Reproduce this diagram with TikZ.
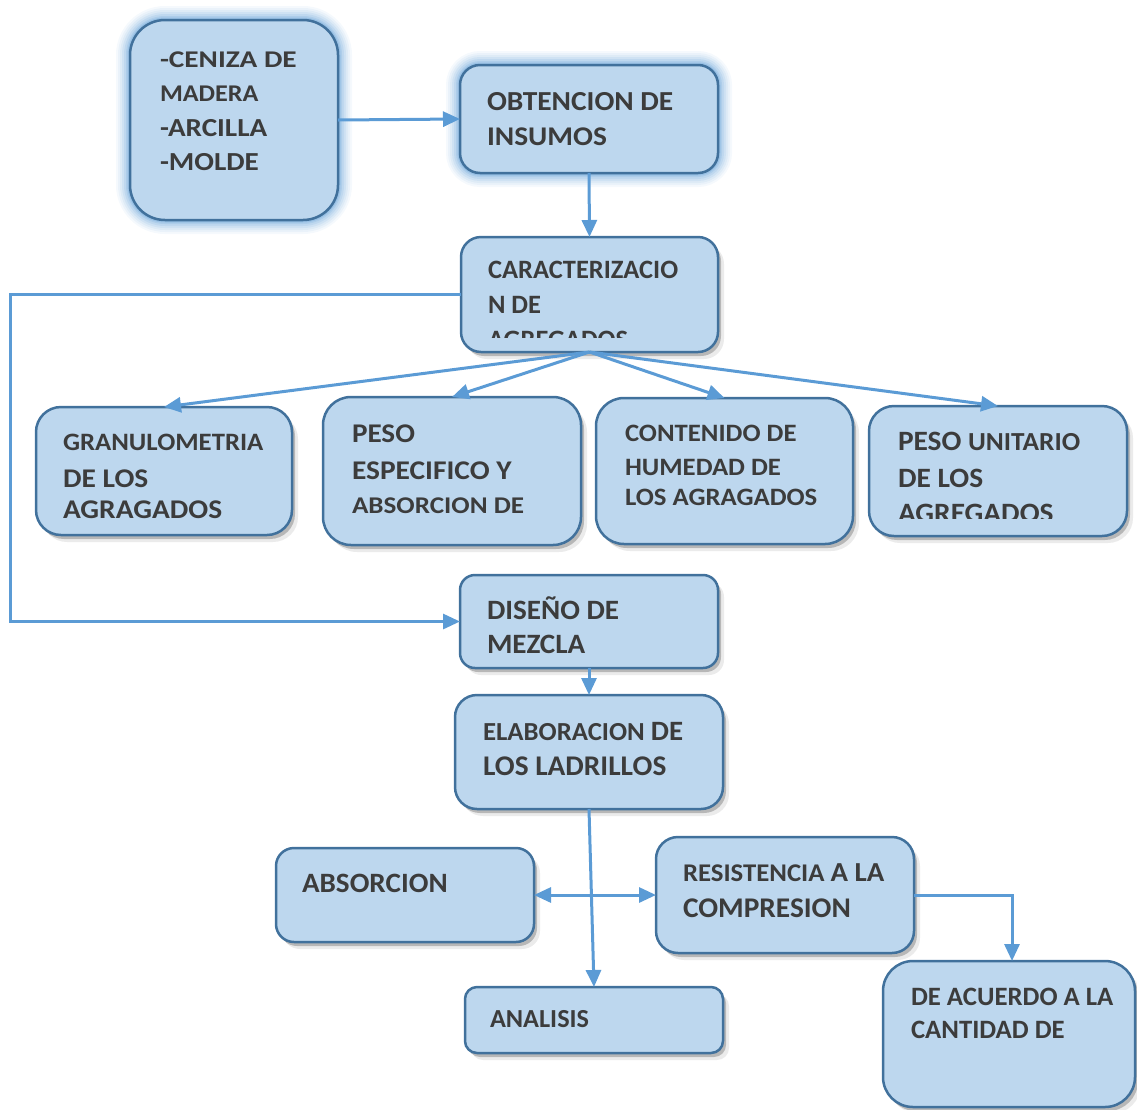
\documentclass[tikz,border=0pt]{standalone}
\usepackage{fontspec}
\usepackage{graphicx}
\setmainfont{Carlito}
\usetikzlibrary{arrows.meta,shadows,calc}
\definecolor{boxfill}{HTML}{BDD7EE}
\definecolor{boxline}{HTML}{41719C}
\definecolor{arrowc}{HTML}{5B9BD5}
\definecolor{glowc}{HTML}{5B9BD5}
\definecolor{txtc}{HTML}{3C3C3C}
\newcommand\fsz[1]{\fontsize{#1}{#1}\selectfont}
\newcommand\tx[3]{\scalebox{#1}[1]{\fsz{#2}#3}}
\begin{document}
\begin{tikzpicture}[x=1pt,y=-1pt,
  box/.style={draw=boxline, fill=boxfill, line width=2.5pt, inner sep=0pt,
    outer sep=0pt, anchor=north west, rounded corners=#1},
  box/.default=20pt,
  shad/.style={drop shadow={shadow xshift=3pt,shadow yshift=-4pt,opacity=0.22,fill=black},
    drop shadow={shadow xshift=6pt,shadow yshift=-7pt,opacity=0.08,fill=black}},
  glow/.style={preaction={draw=glowc,line width=28pt,draw opacity=0.06},
    preaction={draw=glowc,line width=24pt,draw opacity=0.07},
    preaction={draw=glowc,line width=20pt,draw opacity=0.09},
    preaction={draw=glowc,line width=16pt,draw opacity=0.11},
    preaction={draw=glowc,line width=12pt,draw opacity=0.14},
    preaction={draw=glowc,line width=8pt,draw opacity=0.18},
    preaction={draw=glowc,line width=5pt,draw opacity=0.25}},
  txt/.style={anchor=base west, inner sep=0pt, outer sep=0pt, text=txtc, font=\bfseries},
  arr/.style={draw=arrowc, line width=3pt, -{Triangle[length=17pt,width=15pt]}},
  darr/.style={draw=arrowc, line width=3pt, {Triangle[length=17pt,width=15pt]}-{Triangle[length=17pt,width=15pt]}},
  ln/.style={draw=arrowc, line width=3pt}
]
\useasboundingbox (0,0) rectangle (1137,1109);

% boxes
\node[box=35pt, glow, minimum width=208pt, minimum height=200pt] (cen) at (130,20) {};
\node[box=20pt, glow, minimum width=258pt, minimum height=108pt] (obt) at (460,65) {};
\node[box=20pt, shad, minimum width=257pt, minimum height=115pt] (car) at (461,237) {};
\node[box=25pt, shad, minimum width=256pt, minimum height=128pt] (gran) at (36,407) {};
\node[box=28pt, shad, minimum width=258pt, minimum height=148pt] (pesoe) at (323,397) {};
\node[box=28pt, shad, minimum width=257pt, minimum height=146pt] (cont) at (596,398) {};
\node[box=25pt, shad, minimum width=258pt, minimum height=130pt] (pesou) at (869,406) {};
\node[box=15pt, shad, minimum width=258pt, minimum height=93pt] (dis) at (460,575) {};
\node[box=22pt, shad, minimum width=268pt, minimum height=114pt] (elab) at (455,695) {};
\node[box=18pt, shad, minimum width=258pt, minimum height=94pt] (absor) at (276,848) {};
\node[box=22pt, shad, minimum width=258pt, minimum height=116pt] (resis) at (656,837) {};
\node[box=12pt, shad, minimum width=258pt, minimum height=66pt] (anal) at (465,987) {};
\node[box=30pt, shad, minimum width=252pt, minimum height=146pt] (acu) at (883,961) {};

% texts
\node[txt] (t1) at (160,67) {\tx{1.22}{24}{-CENIZA DE}};
\node[txt] (t2) at (160,101) {\tx{1.09}{24}{MADERA}};
\node[txt] (t3) at (160,136) {\tx{1.12}{26}{-ARCILLA}};
\node[txt] (t4) at (160,170) {\tx{1.12}{26}{-MOLDE}};

\node[txt] (t5) at (487,110) {\tx{1.07}{27.5}{OBTENCION DE}};
\node[txt] (t6) at (487,145) {\tx{1.09}{27}{INSUMOS}};

\node[txt] (t7) at (488,278) {\tx{1.0}{26.5}{CARACTERIZACIO}};
\node[txt] (t8) at (488,313) {\tx{1.0}{26.5}{N DE}};
\begin{scope}
  \clip (470,320) rectangle (710,337);
  \node[txt] (t9) at (488,348) {\tx{1.0}{26.5}{AGREGADOS}};
\end{scope}

\node[txt] (t10) at (63,450) {\tx{1.07}{25}{GRANULOMETRIA}};
\node[txt] (t11) at (63,487) {\tx{1.09}{27}{DE LOS}};
\node[txt] (t12) at (63,518) {\tx{1.09}{27}{AGRAGADOS}};

\node[txt] (t13) at (352,442) {\tx{1.08}{27}{PESO}};
\node[txt] (t14) at (352,479) {\tx{1.09}{27}{ESPECIFICO Y}};
\node[txt] (t15) at (352,513) {\tx{1.13}{24}{ABSORCION DE}};

\node[txt] (t16) at (625,441) {\tx{1.07}{25}{CONTENIDO DE}};
\node[txt] (t17) at (625,475) {\tx{1.07}{25}{HUMEDAD DE}};
\node[txt] (t18) at (625,505) {\tx{1.07}{25}{LOS AGRAGADOS}};

\node[txt] (t19) at (898,450) {\scalebox{1.05}[1]{\fsz{28}PESO \fsz{26}UNITARIO}};
\node[txt] (t20) at (898,487) {\tx{1.05}{28}{DE LOS}};
\begin{scope}
  \clip (880,495) rectangle (1110,518);
  \node[txt] (t21) at (898,522) {\tx{1.05}{28}{AGREGADOS}};
\end{scope}

\node[txt] (t22) at (487,619) {\tx{1.04}{28}{DISEÑO DE}};
\node[txt] (t23) at (487,653) {\tx{1.04}{28}{MEZCLA}};

\node[txt] (t24) at (483,740) {\scalebox{1.03}[1]{\fsz{26}ELABORACION \fsz{28}DE}};
\node[txt] (t25) at (483,775) {\tx{1.03}{28.5}{LOS LADRILLOS}};

\node[txt] (t26) at (302,892) {\tx{1.04}{28}{ABSORCION}};

\node[txt] (t27) at (683,881) {\scalebox{1.05}[1]{\fsz{25.5}RESISTENCIA \fsz{27.5}A LA}};
\node[txt] (t28) at (683,917) {\tx{1.03}{28.5}{COMPRESION}};

\node[txt] (t29) at (490,1027) {\tx{1.01}{26}{ANALISIS}};

\node[txt] (t30) at (911,1005) {\tx{1.01}{26.5}{DE ACUERDO A LA}};
\node[txt] (t31) at (911,1038) {\tx{1.01}{26.5}{CANTIDAD DE}};

% connectors
\coordinate (lc) at (10,0);
\draw[arr] (cen.east) -- (obt.west);
\draw[arr] (obt.south) -- (car.north);
\draw[arr] (car.west) -- (car.west -| lc) -- (lc |- dis.west) -- (dis.west);
\draw[arr] (car.south) -- (gran.north);
\draw[arr] (car.south) -- (pesoe.north);
\draw[arr] (car.south) -- (cont.north);
\draw[arr] (car.south) -- (pesou.north);
\draw[arr] (dis.south) -- (elab.north);
\draw[arr] (elab.south) -- (anal.north);
\draw[darr] (absor.east) -- (resis.west);
\coordinate (rc) at ($(acu.north)+(3,0)$);
\draw[arr] (resis.east) -| (rc);
\end{tikzpicture}
\end{document}
